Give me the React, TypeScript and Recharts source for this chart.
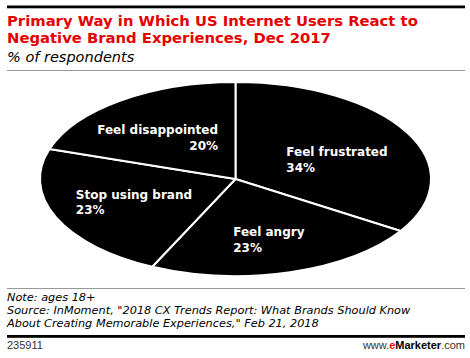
import React from "react"
import { PieChart, Pie, Cell } from "recharts"

// values (share of respondents, %)
const categories = ["Feel frustrated", "Feel angry", "Stop using brand", "Feel disappointed"]
const shares = [34, 23, 23, 20]

const data = categories.map((name, i) => ({ name, value: shares[i] }))

const W = 470
const H = 358
const CX = 235.5
const CY = 179
const RY = 97
const RX = 195.5
const STRETCH = RX / RY

const SANS = "'DejaVu Sans', Verdana, sans-serif"

// label placement around each slice's mid point (layout only)
const labelLayout: Record<string, { anchor: "start" | "end"; dx: number; dy: number }> = {
  "Feel frustrated": { anchor: "start", dx: -52, dy: 5.5 },
  "Feel angry": { anchor: "start", dx: -35, dy: 1.5 },
  "Stop using brand": { anchor: "start", dx: -52, dy: -3.5 },
  "Feel disappointed": { anchor: "end", dx: 51.5, dy: 2.5 },
}

const RAD = Math.PI / 180

function ellipsePoint(cx: number, cy: number, rx: number, ry: number, deg: number) {
  return [cx + rx * Math.cos(deg * RAD), cy - ry * Math.sin(deg * RAD)]
}

// pie slice squashed into an ellipse
const EllipseSector = (props: any) => {
  const { cx, cy, outerRadius, startAngle, endAngle, fill } = props
  const rx = outerRadius * STRETCH
  const ry = outerRadius
  const [x0, y0] = ellipsePoint(cx, cy, rx, ry, startAngle)
  const [x1, y1] = ellipsePoint(cx, cy, rx, ry, endAngle)
  const large = Math.abs(endAngle - startAngle) > 180 ? 1 : 0
  const sweep = endAngle < startAngle ? 1 : 0
  const d = `M${cx},${cy} L${x0},${y0} A${rx},${ry} 0 ${large} ${sweep} ${x1},${y1} Z`
  return <path d={d} fill={fill} stroke="#fff" strokeWidth={2} strokeLinejoin="round" />
}

const renderLabel = (props: any) => {
  const { cx, cy, outerRadius, midAngle, name, value } = props
  const lay = labelLayout[name]
  const [mx, my] = ellipsePoint(cx, cy, outerRadius * STRETCH * 0.6, outerRadius * 0.6, midAngle)
  const x = mx + lay.dx
  const y = my + lay.dy
  return (
    <text x={x} y={y} fill="#fff" textAnchor={lay.anchor} fontFamily={SANS} fontWeight="bold" fontSize={12}>
      <tspan x={x} y={y}>{name}</tspan>
      <tspan x={x} y={y + 15.5}>{value}%</tspan>
    </text>
  )
}

export default function App() {
  return (
    <div style={{ position: "absolute", left: 0, top: 0, width: W, height: H, background: "#fff" }}>
      <svg width={W} height={H} style={{ position: "absolute", left: 0, top: 0 }}>
        <rect x={7} y={5.5} width={458} height={2.8} fill="#000" />
        <g fontFamily={SANS} fontWeight="bold" fontSize={14.8} fill="#e60000">
          <text x={7} y={26}>Primary Way in Which US Internet Users React to</text>
          <text x={7} y={43}>Negative Brand Experiences, Dec 2017</text>
        </g>
        <text x={7} y={62} fontFamily={SANS} fontStyle="italic" fontSize={14.5} fill="#000">
          % of respondents
        </text>
        <rect x={7} y={70} width={458} height={1} fill="#999" />

        <rect x={7} y={288} width={458} height={1} fill="#999" />
        <g fontFamily={SANS} fontStyle="italic" fontSize={11.3} fill="#000">
          <text x={7} y={301}>Note: ages 18+</text>
          <text x={7} y={314}>Source: InMoment, "2018 CX Trends Report: What Brands Should Know</text>
          <text x={7} y={327}>About Creating Memorable Experiences," Feb 21, 2018</text>
        </g>
        <rect x={7} y={335} width={458} height={2.8} fill="#000" />
        <text x={7} y={349} fontFamily="'Liberation Sans', Arial, sans-serif" fontSize={11} fill="#333">235911</text>
        <text x={465} y={349} textAnchor="end" fontFamily="'Liberation Sans', Arial, sans-serif" fontSize={11} fill="#333">
          www.<tspan fill="#e60000" fontWeight="bold">e</tspan>
          <tspan fontWeight="bold" fill="#000">Marketer</tspan>.com
        </text>
      </svg>
      <div style={{ position: "absolute", left: 0, top: 0 }}>
        <PieChart width={W} height={H} margin={{ top: 0, right: 0, bottom: 0, left: 0 }}>
          <Pie
            data={data}
            dataKey="value"
            nameKey="name"
            cx={CX}
            cy={CY}
            outerRadius={RY}
            startAngle={90}
            endAngle={-270}
            stroke="#fff"
            shape={EllipseSector}
            label={renderLabel}
            labelLine={false}
            isAnimationActive={false}
          >
            {data.map((d) => (
              <Cell key={d.name} fill="#000" />
            ))}
          </Pie>
        </PieChart>
      </div>
    </div>
  )
}
